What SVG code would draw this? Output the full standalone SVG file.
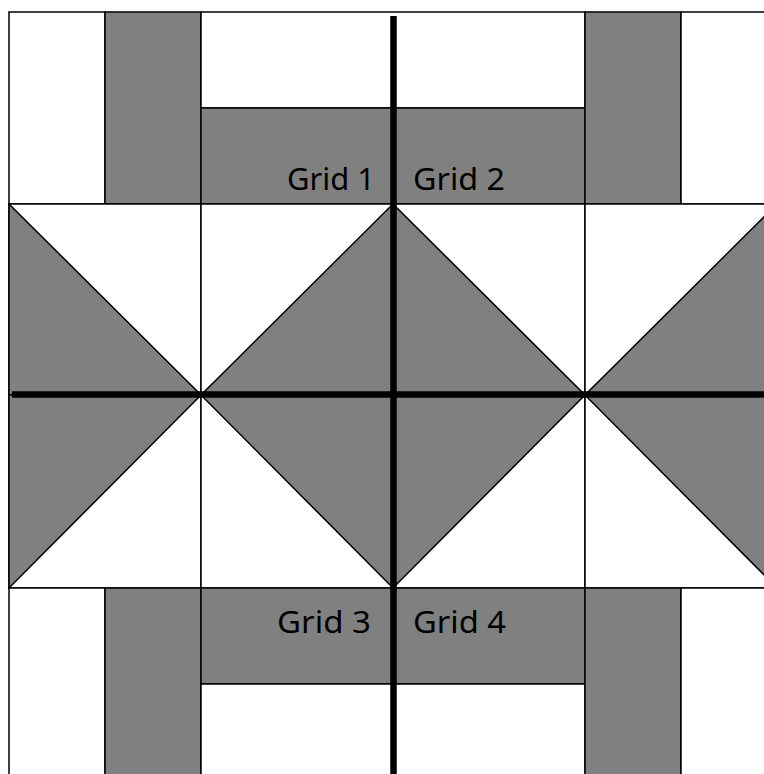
<svg xmlns="http://www.w3.org/2000/svg" width="764" height="774" viewBox="0 0 764 774">
<style>
.w{fill:#ffffff;stroke:#000;stroke-width:1.5}
.g{fill:#808080;stroke:#000;stroke-width:1.5}
.t{font-family:"Comic Sans MS","Noto Sans",sans-serif;font-size:31px;fill:#000}
.thick{stroke:#000;stroke-width:6.5;fill:none}
</style>
<rect width="764" height="774" fill="#ffffff"/>
<g id="top-band">
<rect class="w" x="9" y="12" width="96" height="192"/>
<rect class="g" x="105" y="12" width="96" height="192"/>
<rect class="w" x="201" y="12" width="384" height="96"/>
<rect class="g" x="201" y="108" width="384" height="96"/>
<rect class="g" x="585" y="12" width="96" height="192"/>
<rect class="w" x="681" y="12" width="96" height="192"/>
</g>
<g id="middle-band">
<rect class="w" x="9" y="204" width="192" height="191"/>
<rect class="w" x="9" y="395" width="192" height="193"/>
<rect class="w" x="201" y="204" width="192" height="191"/>
<rect class="w" x="201" y="395" width="192" height="193"/>
<rect class="w" x="393" y="204" width="192" height="191"/>
<rect class="w" x="393" y="395" width="192" height="193"/>
<rect class="w" x="585" y="204" width="192" height="191"/>
<rect class="w" x="585" y="395" width="192" height="193"/>
<polygon class="g" points="9,204 201,395 9,395"/>
<polygon class="g" points="9,395 201,395 9,588"/>
<polygon class="g" points="393,204 393,395 201,395"/>
<polygon class="g" points="201,395 393,395 393,588"/>
<polygon class="g" points="393,204 585,395 393,395"/>
<polygon class="g" points="393,395 585,395 393,588"/>
<polygon class="g" points="777,204 777,395 585,395"/>
<polygon class="g" points="585,395 777,395 777,588"/>
</g>
<g id="bottom-band">
<rect class="w" x="9" y="588" width="96" height="192"/>
<rect class="g" x="105" y="588" width="96" height="192"/>
<rect class="g" x="201" y="588" width="384" height="96"/>
<rect class="w" x="201" y="684" width="384" height="96"/>
<rect class="g" x="585" y="588" width="96" height="192"/>
<rect class="w" x="681" y="588" width="96" height="192"/>
</g>
<g id="dividers">
<line class="thick" x1="393.5" y1="16" x2="393.5" y2="774"/>
<line class="thick" x1="12" y1="394.5" x2="764" y2="394.5"/>
</g>
<g id="labels">
<text class="t" x="287" y="190" textLength="88" lengthAdjust="spacingAndGlyphs">Grid 1</text>
<text class="t" x="413" y="190" textLength="92" lengthAdjust="spacingAndGlyphs">Grid 2</text>
<text class="t" x="277" y="633" textLength="94" lengthAdjust="spacingAndGlyphs">Grid 3</text>
<text class="t" x="413" y="633" textLength="93" lengthAdjust="spacingAndGlyphs">Grid 4</text>
</g>
</svg>
